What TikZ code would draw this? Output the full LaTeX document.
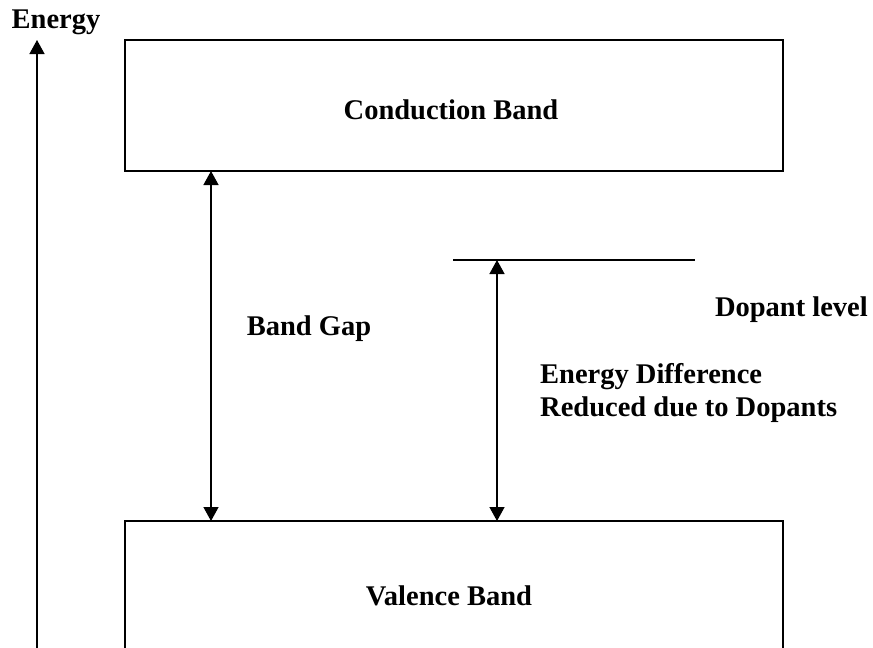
\documentclass[tikz,border=0pt]{standalone}
\usepackage{fontspec}
\setmainfont{Liberation Serif}
\usetikzlibrary{arrows.meta}
\begin{document}
\begin{tikzpicture}[x=1pt,y=-1pt,
  lbl/.style={font=\fontsize{28.5}{33}\selectfont\bfseries, inner sep=0pt},
  band/.style={draw, line width=1.6pt},
  arr/.style={line width=1.4pt, -{Triangle[width=15pt,length=14pt]}},
  darr/.style={line width=1.4pt, {Triangle[width=15pt,length=14pt]}-{Triangle[width=15pt,length=14pt]}}]
\useasboundingbox (0,0) rectangle (873,648);
% bands
\draw[band] (125,171) -- (125,40) -- (783,40) -- (783,171) -- cycle;
\draw[band] (125,648) -- (125,521) -- (783,521) -- (783,648);
\coordinate (cbL) at (211,171);
\coordinate (vbL) at (211,521);
\coordinate (vbR) at (497,521);
% dopant level
\coordinate (dl1) at (453,260);
\coordinate (dl2) at (695,260);
\coordinate (dlA) at (497,260);
\draw[line width=1.4pt] (dl1) -- (dl2);
% axis
\coordinate (ax0) at (37,648);
\coordinate (ax1) at (37,40);
\draw[arr] (ax0) -- (ax1);
% arrows
\draw[darr] (cbL) -- (vbL);
\draw[darr] (dlA) -- (vbR);
% labels
\node[lbl] (energy) at (56,22) {Energy};
\node[lbl] (cb) at (451,110) {Conduction Band};
\node[lbl] (vb) at (449,596) {Valence Band};
\node[lbl] (bg) at (309,329) {Band Gap};
\node[lbl, anchor=east] (dop) at (868,310) {Dopant level};
\node[lbl, anchor=west, align=left] (ed) at (540,393) {Energy Difference\\Reduced due to Dopants};
\end{tikzpicture}
\end{document}
